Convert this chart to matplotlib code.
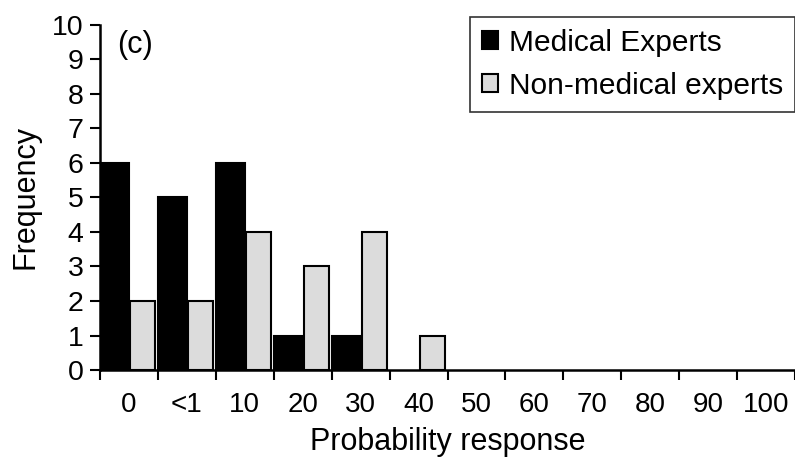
import numpy as np
import matplotlib
matplotlib.use("Agg")
import matplotlib.pyplot as plt

plt.rcParams['font.family'] = ['Liberation Sans', 'DejaVu Sans']

# categories and counts
categories = ['0', '<1', '10', '20', '30', '40', '50', '60', '70', '80', '90', '100']
medical = [6, 5, 6, 1, 1, 0, 0, 0, 0, 0, 0, 0]
non_medical = [2, 2, 4, 3, 4, 1, 0, 0, 0, 0, 0, 0]

fig = plt.figure(figsize=(7.95, 4.61), dpi=100)
ax = fig.add_axes([100/795, 1 - 370/461, 695/795, 345/461])

x = np.arange(len(categories))
med_plot = [v if v > 0 else np.nan for v in medical]
non_plot = [v if v > 0 else np.nan for v in non_medical]
ax.bar(x, med_plot, width=0.5, align='edge', color='black', edgecolor='black',
       linewidth=1.5, label='Medical Experts')
ax.bar(x + 0.52, non_plot, width=0.43, align='edge', color='#dcdcdc',
       edgecolor='black', linewidth=1.5, label='Non-medical experts')

ax.set_xlim(0, len(categories))
ax.set_ylim(0, 10)
ax.set_yticks(range(0, 11))
ax.set_xticks(range(0, len(categories) + 1))
ax.set_xticklabels([])
ax.set_xticks(x + 0.5, minor=True)
ax.set_xticklabels(categories, minor=True)
ax.tick_params(axis='x', which='minor', length=0, pad=16, labelsize=20)
ax.tick_params(axis='x', which='major', length=7, width=1.5, direction='out')
ax.tick_params(axis='y', length=7, width=1.5, labelsize=20.5, pad=5)

for s in ['top', 'right']:
    ax.spines[s].set_visible(False)
for s in ['left', 'bottom']:
    ax.spines[s].set_linewidth(1.8)

ax.set_xlabel('Probability response', fontsize=22, labelpad=6)
ax.set_ylabel('Frequency', fontsize=22, labelpad=8)
ax.text(0.024, 0.985, '(c)', transform=ax.transAxes, fontsize=22, va='top', ha='left')

leg = ax.legend(loc='upper right', bbox_to_anchor=(1.0, 1 - 17/461),
                bbox_transform=fig.transFigure, fontsize=21.5, frameon=True,
                fancybox=False, edgecolor='black', handlelength=0.55,
                handleheight=0.55, handletextpad=0.35, borderpad=0.4,
                labelspacing=0.5, borderaxespad=0)
leg.get_frame().set_linewidth(1.2)

fig.savefig('out.png', dpi=100)
